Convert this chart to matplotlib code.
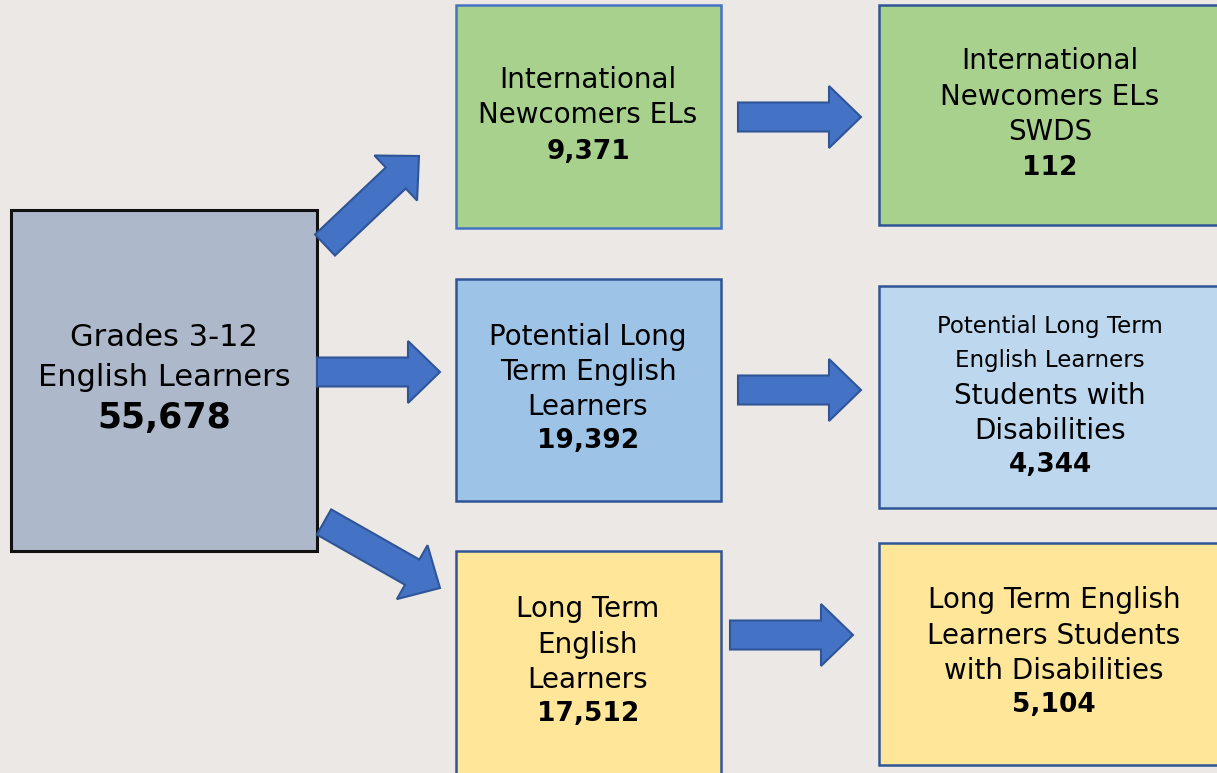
import matplotlib.pyplot as plt
import matplotlib.patches as mpatches

# data
root_label = ["Grades 3-12", "English Learners"]
root_value = 55678

level1_labels = [
    ["International", "Newcomers ELs"],
    ["Potential Long", "Term English", "Learners"],
    ["Long Term", "English", "Learners"],
]
level1_values = [9371, 19392, 17512]

level2_labels = [
    ["International", "Newcomers ELs", "SWDS"],
    ["Potential Long Term", "English Learners", "Students with", "Disabilities"],
    ["Long Term English", "Learners Students", "with Disabilities"],
]
level2_values = [112, 4344, 5104]

FONT = "DejaVu Sans"
BG = "#ECE8E5"
ARROW = "#4472C4"
ARROW_EDGE = "#2F5597"

fig = plt.figure(figsize=(12.17, 7.73), dpi=100)
fig.patch.set_facecolor(BG)
ax = fig.add_axes([0, 0, 1, 1])
ax.set_xlim(0, 1217)
ax.set_ylim(773, 0)
ax.axis("off")


def box(x0, y0, x1, y1, fc, ec, lw=1.8):
    ax.add_patch(mpatches.Rectangle((x0, y0), x1 - x0, y1 - y0,
                                    facecolor=fc, edgecolor=ec, linewidth=lw))


def lines(cx, ys, texts, sizes, bolds):
    for y, t, s, b in zip(ys, texts, sizes, bolds):
        ax.text(cx, y, t, ha="center", va="center", fontsize=s,
                fontweight="bold" if b else "normal", family=FONT, color="black")


def arrow(x0, y0, x1, y1, w=29, hw=62, hl=32):
    ax.add_patch(mpatches.FancyArrow(x0, y0, x1 - x0, y1 - y0, width=w,
                                     head_width=hw, head_length=hl,
                                     length_includes_head=True,
                                     facecolor=ARROW, edgecolor=ARROW_EDGE,
                                     linewidth=1.5))


N = 20     # normal label size
B = 19     # bold number size

# root
box(11, 210, 317, 551, "#ADB9CA", "#111111", 2.2)
lines(164, [338, 378, 418], root_label + [f"{root_value:,}"], [22, 22, 25],
      [False, False, True])

# level 1 boxes
box(456, 5, 721, 228, "#A9D18E", "#4472C4")
lines(588, [80, 115, 152], level1_labels[0] + [f"{level1_values[0]:,}"],
      [N, N, B], [False, False, True])

box(456, 279, 721, 501, "#9DC3E6", "#2F5597")
lines(588, [337, 372, 407, 441], level1_labels[1] + [f"{level1_values[1]:,}"],
      [N, N, N, B], [False, False, False, True])

box(456, 551, 721, 780, "#FFE699", "#2F5597")
lines(588, [609, 645, 680, 714], level1_labels[2] + [f"{level1_values[2]:,}"],
      [N, N, N, B], [False, False, False, True])

# level 2 boxes
box(879, 5, 1222, 225, "#A9D18E", "#2F5597")
lines(1050, [61, 97, 132, 168], level2_labels[0] + [f"{level2_values[0]:,}"],
      [N, N, N, B], [False, False, False, True])

box(879, 286, 1222, 508, "#BDD7EE", "#2F5597")
lines(1050, [327, 361, 396, 431, 465], level2_labels[1] + [f"{level2_values[1]:,}"],
      [16.5, 16.5, N, N, B], [False, False, False, False, True])

box(879, 543, 1222, 765, "#FFE699", "#2F5597")
lines(1054, [600, 636, 671, 705], level2_labels[2] + [f"{level2_values[2]:,}"],
      [N, N, N, B], [False, False, False, True])

# arrows
arrow(325, 245, 419, 156)
arrow(317, 372, 440, 372)
arrow(324, 522, 440, 588)
arrow(738, 117, 861, 117)
arrow(738, 390, 861, 390)
arrow(730, 635, 853, 635)

fig.savefig("out.png", dpi=100, facecolor=BG)
